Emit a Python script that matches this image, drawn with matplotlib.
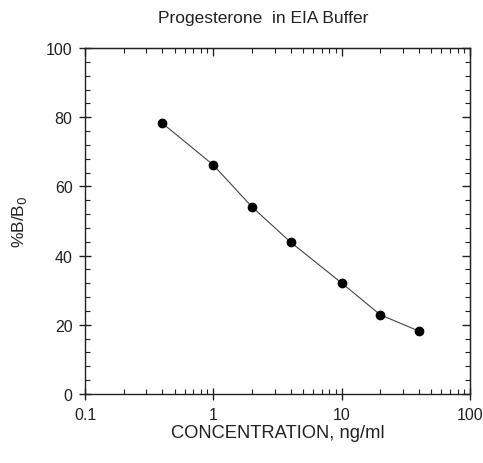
import matplotlib
matplotlib.use("Agg")
import matplotlib.pyplot as plt
from matplotlib.ticker import MultipleLocator, LogLocator, NullFormatter, FixedFormatter, FixedLocator

# concentration (ng/ml) and %B/B0
conc = [0.4, 1, 2, 4, 10, 20, 40]
bb0 = [78.3, 66.2, 54.1, 43.9, 32.1, 22.9, 18.2]

xticks = [0.1, 1, 10, 100]
xtick_labels = ['0.1', '1', '10', '100']

plt.rcParams['font.family'] = ['Liberation Sans', 'DejaVu Sans']

fig = plt.figure(figsize=(4.83, 4.64), dpi=100)
ax = fig.add_axes([0.176, 0.1487, 0.797, 0.7455])

ax.plot(conc, bb0, color='#444444', lw=0.8, marker='o', markersize=6,
        markerfacecolor='black', markeredgecolor='black')

ax.set_xscale('log')
ax.set_xlim(0.1, 100)
ax.set_ylim(0, 100)
ax.xaxis.set_major_locator(FixedLocator(xticks))
ax.xaxis.set_major_formatter(FixedFormatter(xtick_labels))
ax.xaxis.set_minor_locator(LogLocator(base=10, subs=range(2, 10)))
ax.xaxis.set_minor_formatter(NullFormatter())
ax.yaxis.set_major_locator(MultipleLocator(20))
ax.yaxis.set_minor_locator(MultipleLocator(4))

ax.tick_params(which='major', direction='inout', length=8, width=1,
               labelsize=11.5, color='#222222', labelcolor='#222222', pad=5)
ax.tick_params(which='minor', direction='in', length=3.5, width=0.8, color='#222222')

# top and right: inward ticks only
top = ax.secondary_xaxis('top')
top.xaxis.set_major_locator(FixedLocator(xticks))
top.xaxis.set_minor_locator(LogLocator(base=10, subs=range(2, 10)))
top.tick_params(which='both', direction='in', labeltop=False, color='#222222')
top.tick_params(which='major', length=6, width=1)
top.tick_params(which='minor', length=3.5, width=0.8)
right = ax.secondary_yaxis('right')
right.yaxis.set_major_locator(MultipleLocator(20))
right.yaxis.set_minor_locator(MultipleLocator(4))
right.tick_params(which='both', direction='in', labelright=False, color='#222222')
right.tick_params(which='major', length=6, width=1)
right.tick_params(which='minor', length=3.5, width=0.8)

for s in ax.spines.values():
    s.set_linewidth(1.0)
    s.set_color('#222222')

ax.set_xlabel('CONCENTRATION, ng/ml', fontsize=13.2, labelpad=2, color='#222222')
ax.set_ylabel('%B/B$_0$', fontsize=12.5, labelpad=12, color='#222222')
fig.text(263 / 483, 1 - 18 / 464, 'Progesterone  in EIA Buffer', fontsize=12.5,
         ha='center', va='center', color='#222222')

fig.savefig('out.png', dpi=100)
